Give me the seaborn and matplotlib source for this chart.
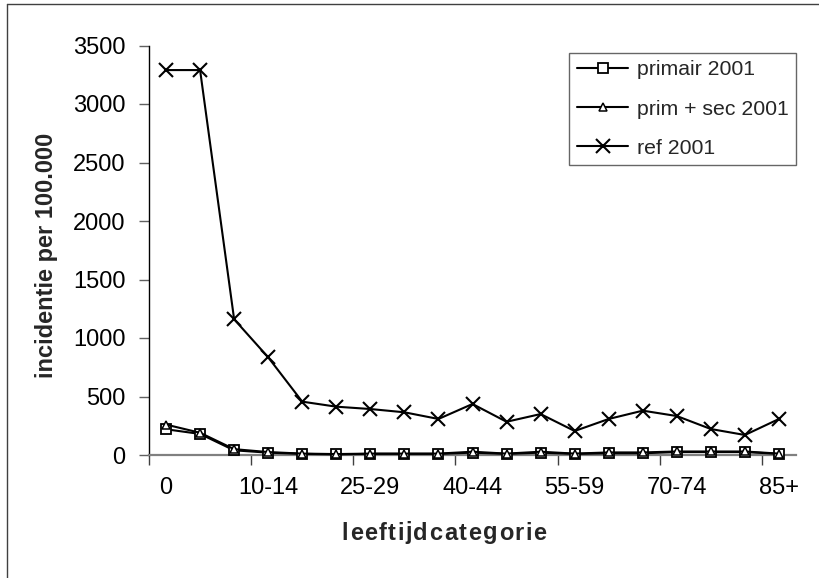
import matplotlib
matplotlib.use("Agg")
import matplotlib.pyplot as plt
from matplotlib.lines import Line2D
from matplotlib.ticker import FixedLocator, NullFormatter
import numpy as np
import pandas as pd
import seaborn as sns

# Age groups and incidence per 100,000
categories = ['0', '1-4', '5-9', '10-14', '15-19', '20-24', '25-29', '30-34', '35-39',
              '40-44', '45-49', '50-54', '55-59', '60-64', '65-69', '70-74', '75-79',
              '80-84', '85+']
primair_2001 = [220, 180, 40, 20, 10, 5, 10, 10, 10, 20, 10, 20, 10, 15, 15, 25, 25, 25, 10]
prim_sec_2001 = [260, 190, 50, 25, 12, 8, 12, 12, 12, 28, 12, 28, 12, 22, 22, 30, 30, 30, 12]
ref_2001 = [3290, 3290, 1160, 835, 456, 413, 393, 365, 308, 436, 284, 350, 205, 308, 379,
            333, 222, 171, 308]
y_ticks = [0, 500, 1000, 1500, 2000, 2500, 3000, 3500]

sns.set_theme(style="white")
plt.rcParams['font.family'] = ['Liberation Sans', 'DejaVu Sans']

W, H = 819, 578
fig = plt.figure(figsize=(W / 100, H / 100), dpi=100)
ax = fig.add_axes([149 / W, (H - 455) / H, (796 - 149) / W, (455 - 45.5) / H])

pos = np.arange(len(categories))
df = pd.DataFrame({
    'pos': np.tile(pos, 3),
    'waarde': primair_2001 + prim_sec_2001 + ref_2001,
    'reeks': ['primair 2001'] * len(pos) + ['prim + sec 2001'] * len(pos) + ['ref 2001'] * len(pos),
})

styles = {
    'primair 2001': dict(marker='s', markersize=7, markeredgewidth=1.3),
    'prim + sec 2001': dict(marker='^', markersize=5.5, markeredgewidth=1.1),
    'ref 2001': dict(marker='x', markersize=10, markeredgewidth=1.5),
}
for name, st in styles.items():
    sub = df[df['reeks'] == name]
    sns.lineplot(data=sub, x='pos', y='waarde', ax=ax, color='black', linewidth=1.5,
                 markerfacecolor='white', markeredgecolor='black', label=name,
                 clip_on=False, zorder=3, **st)

ax.set_xlim(-0.5, len(categories) - 0.5)
ax.set_ylim(0, 3500)

# y axis
ax.set_yticks(y_ticks)
ax.set_yticklabels([str(v) for v in y_ticks])
ax.tick_params(axis='y', which='major', left=True, length=7, width=1, color='#606060',
               direction='out', pad=10, labelsize=17, labelcolor='black')

# x axis: labels every third group, tick marks on group boundaries
label_pos = pos[::3]
ax.xaxis.set_major_locator(FixedLocator(label_pos))
ax.set_xticklabels([categories[i] for i in label_pos])
ax.xaxis.set_minor_locator(FixedLocator(np.arange(-0.5, len(categories) - 1, 3)))
ax.xaxis.set_minor_formatter(NullFormatter())
ax.tick_params(axis='x', which='major', bottom=True, length=0, pad=15.5, labelsize=17,
               labelcolor='black')
ax.tick_params(axis='x', which='minor', bottom=True, length=7, width=1, color='#404040',
               direction='out')

for s in ['top', 'right']:
    ax.spines[s].set_visible(False)
ax.spines['left'].set_color('black')
ax.spines['left'].set_linewidth(1.0)
ax.spines['bottom'].set_color('#808080')
ax.spines['bottom'].set_linewidth(1.6)
ax.spines['left'].set_zorder(1)
ax.spines['bottom'].set_zorder(1)
ax.grid(False)
ax.set_xlabel('')
ax.set_ylabel('')

leg = ax.legend(loc='upper right', bbox_to_anchor=(796 / W, (H - 52.7) / H),
                bbox_transform=fig.transFigure, borderaxespad=0, fontsize=15.3,
                frameon=True, fancybox=False, shadow=False, handlelength=2.4,
                handletextpad=0.4, labelspacing=0.95, borderpad=0.36)
leg.get_frame().set_edgecolor('#404040')
leg.get_frame().set_linewidth(1.0)

# axis titles
fig.text(47 / W, 1 - 255 / H, 'incidentie per 100.000', rotation=90, fontsize=17,
         fontweight='bold', ha='center', va='center')

# x title with widened letter spacing
fig.canvas.draw()
renderer = fig.canvas.get_renderer()
title = 'leeftijdcategorie'
extra = 1.5
widths = []
for ch in title:
    t = fig.text(0, 0, ch, fontsize=17, fontweight='bold')
    widths.append(t.get_window_extent(renderer).width)
    t.remove()
total = sum(widths) + extra * (len(title) - 1)
x = 444 - total / 2
for ch, w in zip(title, widths):
    fig.text(x / W, 1 - 533 / H, ch, fontsize=17, fontweight='bold', ha='left', va='center')
    x += w + extra

# chart frame (left and top edges)
fig.add_artist(Line2D([7 / W, 7 / W], [0, 1 - 4 / H], transform=fig.transFigure,
                      color='#404040', linewidth=1.0))
fig.add_artist(Line2D([7 / W, 1], [1 - 4 / H, 1 - 4 / H], transform=fig.transFigure,
                      color='#404040', linewidth=1.0))

fig.savefig('out.png', dpi=100)
